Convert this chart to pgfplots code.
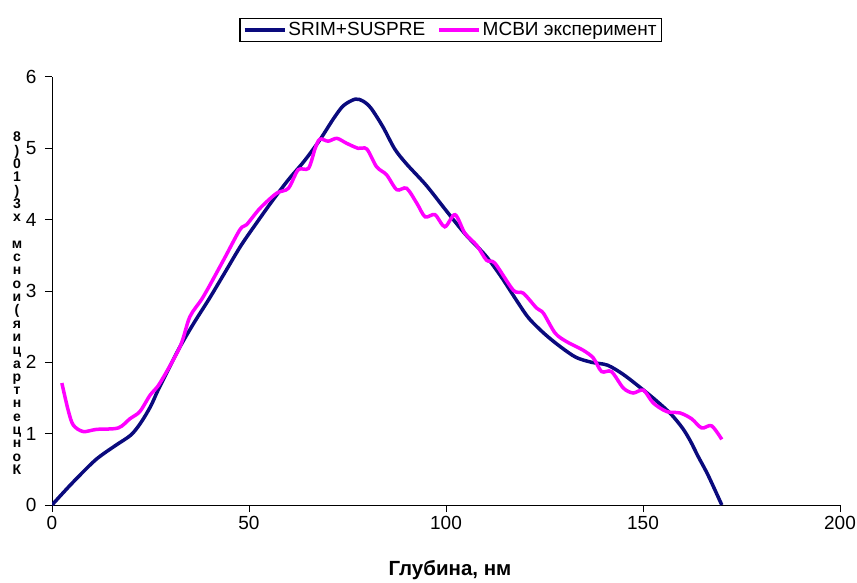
\documentclass[border=0pt]{standalone}
\usepackage{pgfplots}
\pgfplotsset{compat=1.18}
\usepackage{fontspec}
\setmainfont{Liberation Sans}
\definecolor{srim}{RGB}{10,10,125}
\definecolor{msvi}{RGB}{255,0,255}
\begin{document}
\begin{tikzpicture}
\useasboundingbox (0,0) rectangle (857pt,582pt);
\begin{axis}[
  at={(52pt,77pt)}, anchor=south west,
  scale only axis, width=788pt, height=428pt,
  xmin=0, xmax=200, ymin=0, ymax=6,
  xtick={0,50,100,150,200}, ytick={0,1,2,3,4,5,6},
  axis lines=left,
  axis line style={-, line width=1pt, black},
  tick align=outside, major tick length=7pt,
  tick style={line width=1pt, black},
  every tick label/.append style={font=\fontsize{19}{22}\selectfont},
  /pgf/number format/assume math mode=true,
  xticklabel style={yshift=-1pt},
  yticklabel style={xshift=-5pt},
  xlabel={\bfseries Глубина, нм},
  xlabel style={font=\fontsize{20.5}{24}\selectfont, at={(axis description cs:0.505,-0.152)}, anchor=center},
  legend columns=2,
  legend style={at={(axis description cs:0.506,1.11)}, anchor=center,
    draw=black, line width=1.3pt, font=\fontsize{19}{22}\selectfont,
    inner xsep=3pt, inner ysep=2pt,
    /tikz/every even column/.append style={column sep=10pt}},
  legend image code/.code={\draw[#1, line width=3.5pt] (0pt,0pt) -- (40pt,0pt);},
]
\addplot[srim, line width=3.5pt, smooth, tension=0.5] coordinates {
(0,0) (5,0.3) (11,0.63) (16,0.83) (20,0.98) (22.5,1.15) (25,1.38) (27,1.62)
(30,1.95) (32.5,2.22) (36,2.55) (40,2.9) (44,3.27) (48,3.64) (52,3.96)
(56,4.27) (60,4.56) (64,4.82) (68,5.12) (71.5,5.42) (74,5.6) (77,5.69)
(79,5.66) (81,5.56) (84,5.3) (87,4.99) (90,4.78) (95,4.48) (100,4.13)
(105,3.79) (110,3.5) (114,3.2) (118,2.86) (121,2.62) (125,2.4) (129,2.22)
(133,2.07) (137,2.0) (141,1.96) (145,1.83) (149,1.66) (153,1.48) (157,1.28)
(160,1.08) (162,0.9) (164,0.68) (166.5,0.42) (170,0)
};
\addlegendentry{SRIM+SUSPRE}
\addplot[msvi, line width=3.5pt, smooth, tension=0.5] coordinates {
(2.5,1.71) (4.1,1.33) (5.4,1.12) (7.9,1.03) (11.3,1.06) (16.8,1.08)
(19.8,1.21) (22.3,1.31) (24.9,1.54) (27.4,1.71) (32.5,2.22) (35.0,2.64)
(38.4,2.92) (43.5,3.43) (47.7,3.86) (49.4,3.93) (52.8,4.16) (57.0,4.37)
(60.0,4.44) (62.5,4.70) (65.1,4.72) (66.8,5.00) (68.0,5.13) (70.1,5.10)
(72.3,5.14) (74.8,5.07) (77.7,5.00) (79.9,4.99) (82.4,4.74) (84.9,4.63)
(87.5,4.42) (90.0,4.44) (92.6,4.23) (94.7,4.04) (97.2,4.07) (99.7,3.90)
(102.3,4.07) (104.8,3.81) (107.8,3.64) (110.3,3.43) (112.4,3.39) (117.1,3.01)
(119.6,2.97) (123.0,2.76) (124.7,2.69) (127.7,2.41) (130.6,2.29) (134.8,2.17)
(137.4,2.06) (139.5,1.87) (142.0,1.87) (145.0,1.64) (147.5,1.57) (150.1,1.61)
(152.6,1.43) (156.0,1.31) (159.4,1.29) (162.3,1.21) (164.9,1.08) (167.4,1.11)
(170.0,0.92)
};
\addlegendentry{МСВИ эксперимент}
\end{axis}
\node[anchor=north, align=center, inner sep=0pt,
  font=\bfseries\fontsize{14}{13.3}\selectfont] at (17pt,450pt)
  {8\\)\\0\\1\\)\\3\\х\\ \\м\\с\\н\\о\\и\\(\\я\\и\\ц\\а\\р\\т\\н\\е\\ц\\н\\о\\К};
\end{tikzpicture}
\end{document}
